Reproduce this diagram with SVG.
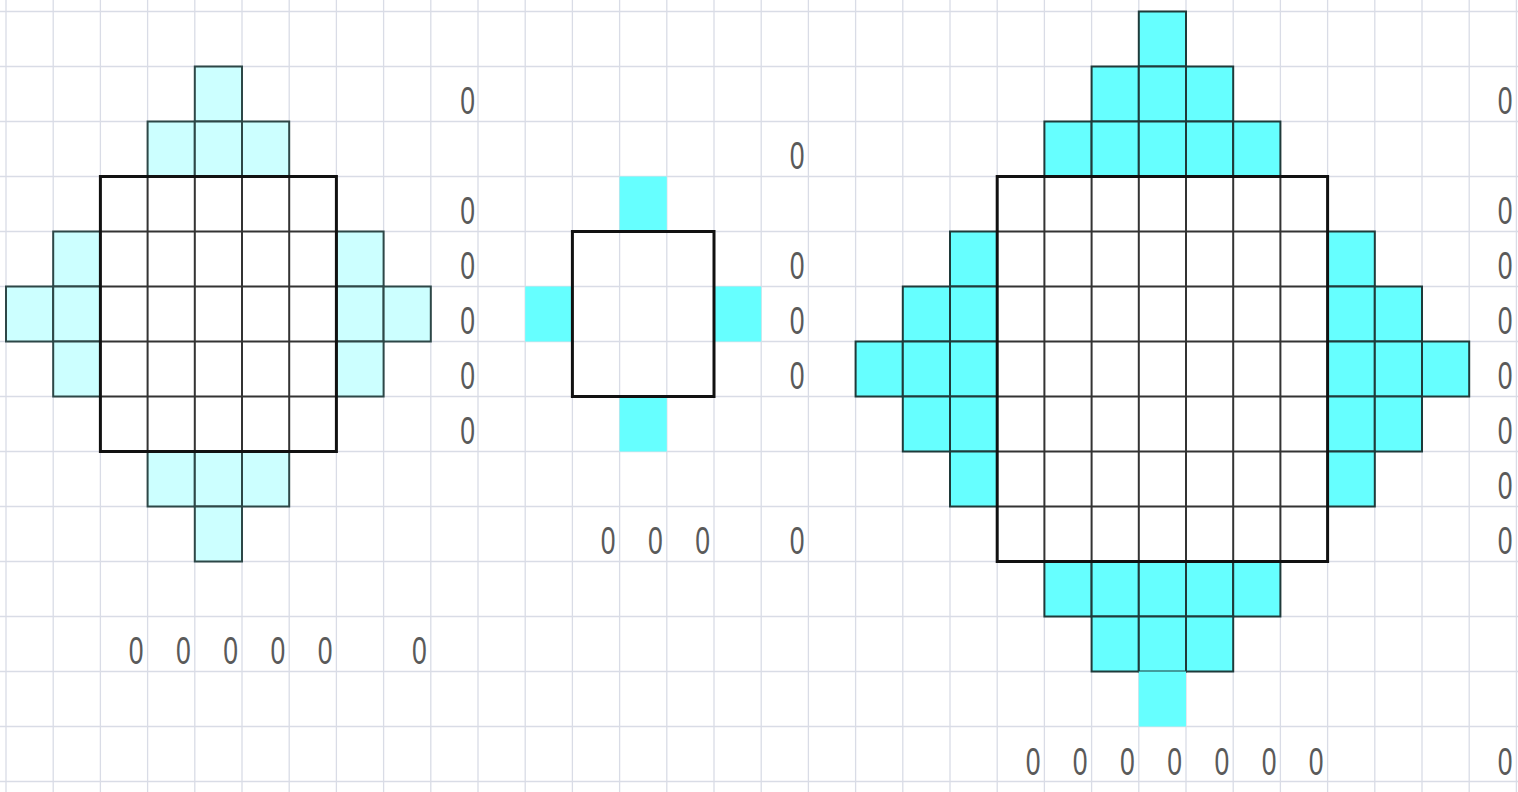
<svg xmlns="http://www.w3.org/2000/svg" width="1518" height="792" viewBox="0 0 1518 792">
<style>
.g{stroke:#d9dce6;stroke-width:1.3;fill:none}
.c1{fill:#ccffff;stroke:#2d4747;stroke-width:2}
.c2{fill:#66ffff;stroke:#1f3a3a;stroke-width:2}
.c3{fill:#66ffff;stroke:none}
.in{stroke:#333;stroke-width:2;fill:none}
.bd{fill:none;stroke:#111;stroke-width:3}
.t{font-family:"Liberation Sans",Arial,sans-serif;font-size:39px;fill:#5a5a5a;text-anchor:end}
</style>
<rect width="1518" height="792" fill="#fff"/>
<g id="grid" class="g">
<path d="M6,0V792M53.2,0V792M100.4,0V792M147.6,0V792M194.8,0V792M242,0V792M289.2,0V792M336.4,0V792M383.6,0V792M430.8,0V792M478,0V792M525.2,0V792M572.4,0V792M619.6,0V792M666.8,0V792M714,0V792M761.2,0V792M808.4,0V792M855.6,0V792M902.8,0V792M950,0V792M997.2,0V792M1044.4,0V792M1091.6,0V792M1138.8,0V792M1186,0V792M1233.2,0V792M1280.4,0V792M1327.6,0V792M1374.8,0V792M1422,0V792M1469.2,0V792M1516.4,0V792"/>
<path d="M0,11.5H1518M0,66.5H1518M0,121.5H1518M0,176.5H1518M0,231.5H1518M0,286.5H1518M0,341.5H1518M0,396.5H1518M0,451.5H1518M0,506.5H1518M0,561.5H1518M0,616.5H1518M0,671.5H1518M0,726.5H1518M0,781.5H1518"/>
</g>
<g id="shape-left">
<rect class="c1" x="194.8" y="66.5" width="47.2" height="55"/>
<rect class="c1" x="147.6" y="121.5" width="47.2" height="55"/>
<rect class="c1" x="194.8" y="121.5" width="47.2" height="55"/>
<rect class="c1" x="242" y="121.5" width="47.2" height="55"/>
<rect class="c1" x="53.2" y="231.5" width="47.2" height="55"/>
<rect class="c1" x="336.4" y="231.5" width="47.2" height="55"/>
<rect class="c1" x="6" y="286.5" width="47.2" height="55"/>
<rect class="c1" x="53.2" y="286.5" width="47.2" height="55"/>
<rect class="c1" x="336.4" y="286.5" width="47.2" height="55"/>
<rect class="c1" x="383.6" y="286.5" width="47.2" height="55"/>
<rect class="c1" x="53.2" y="341.5" width="47.2" height="55"/>
<rect class="c1" x="336.4" y="341.5" width="47.2" height="55"/>
<rect class="c1" x="147.6" y="451.5" width="47.2" height="55"/>
<rect class="c1" x="194.8" y="451.5" width="47.2" height="55"/>
<rect class="c1" x="242" y="451.5" width="47.2" height="55"/>
<rect class="c1" x="194.8" y="506.5" width="47.2" height="55"/>
<rect x="100.4" y="176.5" width="236" height="275" fill="#fff"/>
<path class="in" d="M147.6,176.5V451.5M194.8,176.5V451.5M242,176.5V451.5M289.2,176.5V451.5M100.4,231.5H336.4M100.4,286.5H336.4M100.4,341.5H336.4M100.4,396.5H336.4"/>
<rect class="bd" x="100.4" y="176.5" width="236" height="275"/>
</g>
<g id="shape-middle">
<rect class="c3" x="619.6" y="176.5" width="47.2" height="55"/>
<rect class="c3" x="525.2" y="286.5" width="47.2" height="55"/>
<rect class="c3" x="714" y="286.5" width="47.2" height="55"/>
<rect class="c3" x="619.6" y="396.5" width="47.2" height="55"/>
<rect class="bd" x="572.4" y="231.5" width="141.6" height="165"/>
</g>
<g id="shape-right">
<rect class="c2" x="1138.8" y="11.5" width="47.2" height="55"/>
<rect class="c2" x="1091.6" y="66.5" width="47.2" height="55"/>
<rect class="c2" x="1138.8" y="66.5" width="47.2" height="55"/>
<rect class="c2" x="1186" y="66.5" width="47.2" height="55"/>
<rect class="c2" x="1044.4" y="121.5" width="47.2" height="55"/>
<rect class="c2" x="1091.6" y="121.5" width="47.2" height="55"/>
<rect class="c2" x="1138.8" y="121.5" width="47.2" height="55"/>
<rect class="c2" x="1186" y="121.5" width="47.2" height="55"/>
<rect class="c2" x="1233.2" y="121.5" width="47.2" height="55"/>
<rect class="c2" x="950" y="231.5" width="47.2" height="55"/>
<rect class="c2" x="1327.6" y="231.5" width="47.2" height="55"/>
<rect class="c2" x="902.8" y="286.5" width="47.2" height="55"/>
<rect class="c2" x="950" y="286.5" width="47.2" height="55"/>
<rect class="c2" x="1327.6" y="286.5" width="47.2" height="55"/>
<rect class="c2" x="1374.8" y="286.5" width="47.2" height="55"/>
<rect class="c2" x="855.6" y="341.5" width="47.2" height="55"/>
<rect class="c2" x="902.8" y="341.5" width="47.2" height="55"/>
<rect class="c2" x="950" y="341.5" width="47.2" height="55"/>
<rect class="c2" x="1327.6" y="341.5" width="47.2" height="55"/>
<rect class="c2" x="1374.8" y="341.5" width="47.2" height="55"/>
<rect class="c2" x="1422" y="341.5" width="47.2" height="55"/>
<rect class="c2" x="902.8" y="396.5" width="47.2" height="55"/>
<rect class="c2" x="950" y="396.5" width="47.2" height="55"/>
<rect class="c2" x="1327.6" y="396.5" width="47.2" height="55"/>
<rect class="c2" x="1374.8" y="396.5" width="47.2" height="55"/>
<rect class="c2" x="950" y="451.5" width="47.2" height="55"/>
<rect class="c2" x="1327.6" y="451.5" width="47.2" height="55"/>
<rect class="c2" x="1044.4" y="561.5" width="47.2" height="55"/>
<rect class="c2" x="1091.6" y="561.5" width="47.2" height="55"/>
<rect class="c2" x="1138.8" y="561.5" width="47.2" height="55"/>
<rect class="c2" x="1186" y="561.5" width="47.2" height="55"/>
<rect class="c2" x="1233.2" y="561.5" width="47.2" height="55"/>
<rect class="c2" x="1091.6" y="616.5" width="47.2" height="55"/>
<rect class="c2" x="1138.8" y="616.5" width="47.2" height="55"/>
<rect class="c2" x="1186" y="616.5" width="47.2" height="55"/>
<rect class="c3" x="1138.8" y="671.5" width="47.2" height="55"/>
<rect x="997.2" y="176.5" width="330.4" height="385" fill="#fff"/>
<path class="in" d="M1044.4,176.5V561.5M1091.6,176.5V561.5M1138.8,176.5V561.5M1186,176.5V561.5M1233.2,176.5V561.5M1280.4,176.5V561.5M997.2,231.5H1327.6M997.2,286.5H1327.6M997.2,341.5H1327.6M997.2,396.5H1327.6M997.2,451.5H1327.6M997.2,506.5H1327.6"/>
<rect class="bd" x="997.2" y="176.5" width="330.4" height="385"/>
</g>
<g id="labels" class="t">
<text transform="translate(475,114) scale(0.68,1)">0</text>
<text transform="translate(475,224) scale(0.68,1)">0</text>
<text transform="translate(475,279) scale(0.68,1)">0</text>
<text transform="translate(475,334) scale(0.68,1)">0</text>
<text transform="translate(475,389) scale(0.68,1)">0</text>
<text transform="translate(475,444) scale(0.68,1)">0</text>
<text transform="translate(143.6,664) scale(0.68,1)">0</text>
<text transform="translate(190.8,664) scale(0.68,1)">0</text>
<text transform="translate(238,664) scale(0.68,1)">0</text>
<text transform="translate(285.2,664) scale(0.68,1)">0</text>
<text transform="translate(332.4,664) scale(0.68,1)">0</text>
<text transform="translate(426.8,664) scale(0.68,1)">0</text>
<text transform="translate(804.4,169) scale(0.68,1)">0</text>
<text transform="translate(804.4,279) scale(0.68,1)">0</text>
<text transform="translate(804.4,334) scale(0.68,1)">0</text>
<text transform="translate(804.4,389) scale(0.68,1)">0</text>
<text transform="translate(804.4,554) scale(0.68,1)">0</text>
<text transform="translate(615.6,554) scale(0.68,1)">0</text>
<text transform="translate(662.8,554) scale(0.68,1)">0</text>
<text transform="translate(710,554) scale(0.68,1)">0</text>
<text transform="translate(1512.4,114) scale(0.68,1)">0</text>
<text transform="translate(1512.4,224) scale(0.68,1)">0</text>
<text transform="translate(1512.4,279) scale(0.68,1)">0</text>
<text transform="translate(1512.4,334) scale(0.68,1)">0</text>
<text transform="translate(1512.4,389) scale(0.68,1)">0</text>
<text transform="translate(1512.4,444) scale(0.68,1)">0</text>
<text transform="translate(1512.4,499) scale(0.68,1)">0</text>
<text transform="translate(1512.4,554) scale(0.68,1)">0</text>
<text transform="translate(1512.4,775) scale(0.68,1)">0</text>
<text transform="translate(1040.4,775) scale(0.68,1)">0</text>
<text transform="translate(1087.6,775) scale(0.68,1)">0</text>
<text transform="translate(1134.8,775) scale(0.68,1)">0</text>
<text transform="translate(1182,775) scale(0.68,1)">0</text>
<text transform="translate(1229.2,775) scale(0.68,1)">0</text>
<text transform="translate(1276.4,775) scale(0.68,1)">0</text>
<text transform="translate(1323.6,775) scale(0.68,1)">0</text>
</g>
</svg>
